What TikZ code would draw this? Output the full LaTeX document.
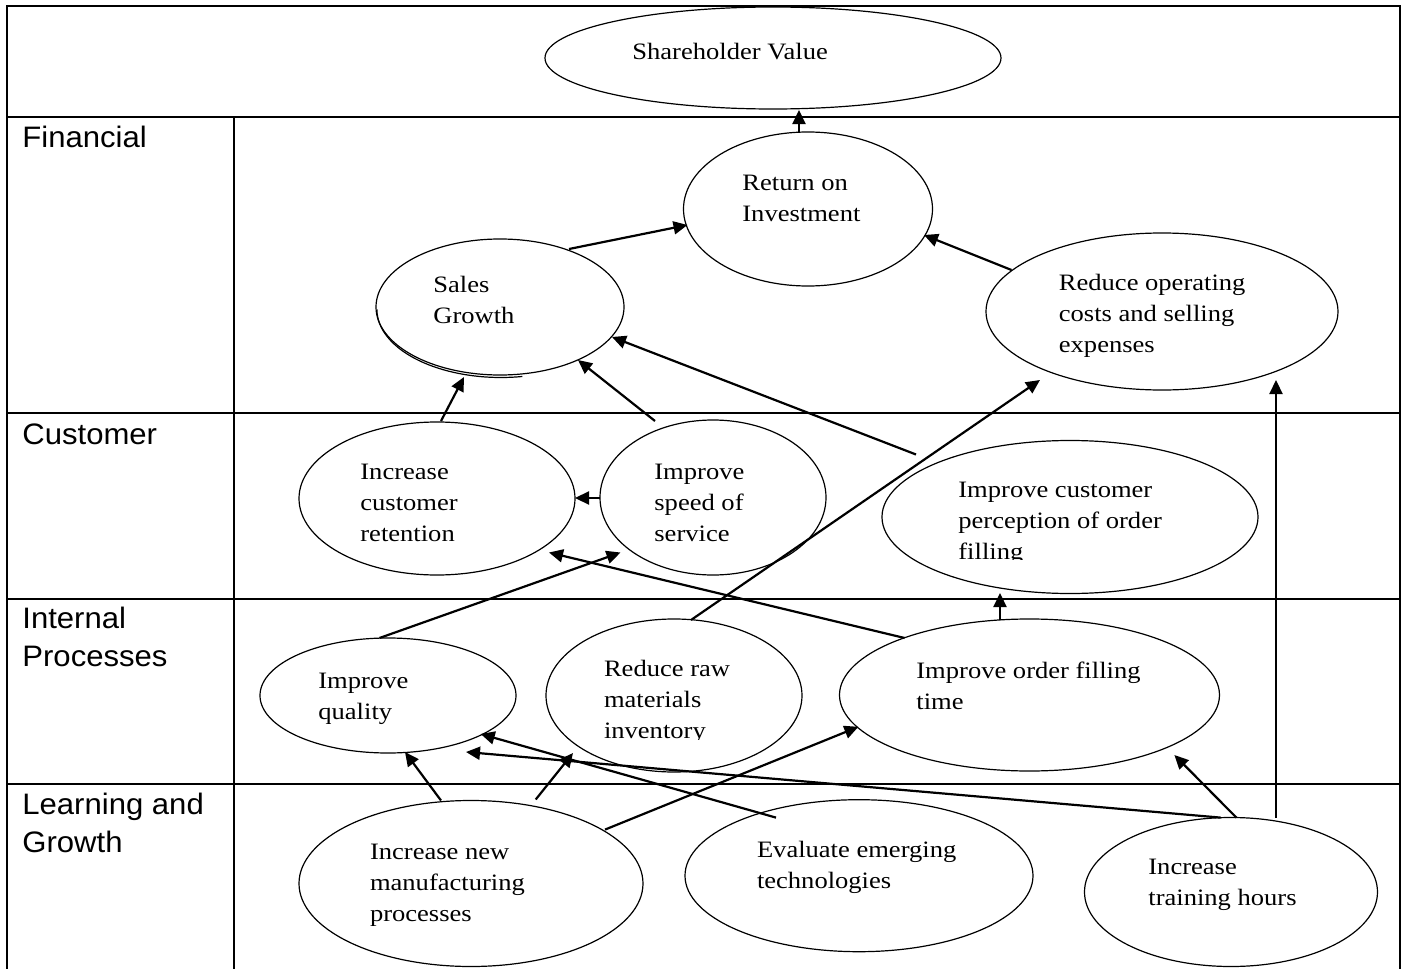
\documentclass[tikz,border=0pt]{standalone}
\usepackage{fontspec}
\setmainfont{Liberation Serif}[FakeStretch=1.13]
\newfontfamily\lblfont{Liberation Sans}[FakeStretch=1.05]
\usetikzlibrary{shapes.geometric,arrows.meta}
\begin{document}
\begin{tikzpicture}[x=0.5pt,y=-0.5pt,
  ell/.style={draw, ellipse, line width=0.6pt, inner sep=0pt},
  txt/.style={inner sep=0pt, anchor=base west, align=left, font=\fontsize{11.75}{15.5}\selectfont},
  lbl/.style={inner sep=0pt, anchor=base west, align=left, font=\lblfont\fontsize{14.8}{19}\selectfont},
  frameline/.style={line width=1pt},
  conn/.style={-{Triangle[length=7pt,width=6.5pt]}, line width=1.1pt}]
\useasboundingbox (0,0) rectangle (1405,969);
\fill[white] (0,0) rectangle (1405,969);
% frame
\draw[frameline] (7,969) -- (7,6) -- (1400,6) -- (1400,969);
\draw[frameline] (7,117) -- (1400,117);
\draw[frameline] (7,413) -- (1400,413);
\draw[frameline] (7,599) -- (1400,599);
\draw[frameline] (7,784) -- (1400,784);
\draw[frameline] (234,117) -- (234,969);
% row labels (anchor = baseline of last line)
\node[lbl] (lfin) at (22,147) {Financial};
\node[lbl] (lcus) at (22,444) {Customer};
\node[lbl] (lint) at (22,666) {Internal\\Processes};
\node[lbl] (llea) at (22,852) {Learning and\\Growth};
% ellipses
\node[ell, minimum width=228pt, minimum height=51pt] (sv) at (773,58) {};
\node[ell, minimum width=124.5pt, minimum height=77pt] (roi) at (808,209) {};
\node[ell, minimum width=124pt, minimum height=68pt] (sg) at (500,307) {};
\node[ell, minimum width=176pt, minimum height=78.5pt] (roc) at (1162,311.5) {};
\node[ell, minimum width=138pt, minimum height=76.5pt] (icr) at (437,498.5) {};
\node[ell, minimum width=113pt, minimum height=77.5pt] (iss) at (713,497.5) {};
\node[ell, minimum width=188pt, minimum height=76.5pt] (icp) at (1070,517) {};
\node[ell, minimum width=128pt, minimum height=57.5pt] (iq) at (388,695.5) {};
\node[ell, minimum width=128pt, minimum height=76.5pt] (rrm) at (674,695.5) {};
\node[ell, minimum width=190pt, minimum height=76pt] (iof) at (1029.5,695) {};
\node[ell, minimum width=172pt, minimum height=83pt] (inm) at (471,883.5) {};
\node[ell, minimum width=174pt, minimum height=76pt] (eet) at (859,875.7) {};
\node[ell, minimum width=146.5pt, minimum height=74.5pt] (ith) at (1231,892) {};
\draw[line width=0.6pt] ([shift={(1.5,2.5)}]sg.west) arc[start angle=180, end angle=280, x radius=62pt, y radius=34pt];
% texts (anchor = baseline of last line)
\node[txt] (sv-t) at (632,60) {Shareholder Value};
\node[txt] (roi-t) at (742,221) {Return on\\Investment};
\node[txt] (sg-t) at (433,323) {Sales\\Growth};
\node[txt] (roc-t) at (1058.5,352) {Reduce operating\\costs and selling\\expenses};
\node[txt] (icr-t) at (360,541) {Increase\\customer\\retention};
\node[txt] (iss-t) at (654,541) {Improve\\speed of\\service};
\begin{scope}
\clip (900,440) rectangle (1250,559);
\node[txt] (icp-t) at (958,559) {Improve customer\\perception of order\\filling};
\end{scope}
\node[txt] (iq-t) at (318,719.5) {Improve\\quality};
\begin{scope}
\clip (560,630) rectangle (800,739.5);
\node[txt] (rrm-t) at (603.6,738) {Reduce raw\\materials\\inventory};
\end{scope}
\node[txt] (iof-t) at (916,709) {Improve order filling\\time};
\node[txt] (inm-t) at (369.6,921) {Increase new\\manufacturing\\processes};
\node[txt] (eet-t) at (756.6,888.5) {Evaluate emerging\\technologies};
\node[txt] (ith-t) at (1148,905) {Increase\\training hours};
% connectors
\draw[conn] ([shift={(-9,-77)}]roi.center) -- ([shift={(26,52)}]sv.center);
\draw[conn] ([shift={(69,-58)}]sg.center) -- ([shift={(-120.5,16)}]roi.center);
\draw[conn] ([shift={(-150.5,-41.5)}]roc.center) -- ([shift={(116,26)}]roi.center);
\draw[conn] ([shift={(4,-77.5)}]icr.center) -- ([shift={(-36,70)}]sg.center);
\draw[conn] ([shift={(-58,-76.5)}]iss.center) -- ([shift={(78,53)}]sg.center);
\draw[conn] ([shift={(-113,0.5)}]iss.center) -- ([shift={(138,-0.5)}]icr.center);
\draw[conn] ([shift={(-154,-62.5)}]icp.center) -- ([shift={(112,30)}]sg.center);
\draw[conn] ([shift={(-8.5,-57.5)}]iq.center) -- ([shift={(-92.5,55)}]iss.center);
\draw[conn] ([shift={(-124.9,-57)}]iof.center) -- ([shift={(112,54)}]icr.center);
\draw[conn] ([shift={(17,-75.5)}]rrm.center) -- ([shift={(-122,68.5)}]roc.center);
\draw[conn] ([shift={(-29.5,-75.5)}]iof.center) -- ([shift={(-70,76)}]icp.center);
\draw[conn] ([shift={(-30,-83)}]inm.center) -- ([shift={(17,56.5)}]iq.center);
\draw[conn] ([shift={(64.7,-84)}]inm.center) -- ([shift={(-101,57.5)}]rrm.center);
\draw[conn] ([shift={(134,-53.9)}]inm.center) -- ([shift={(-171.1,31.8)}]iof.center);
\draw[conn] ([shift={(-83,-58.1)}]eet.center) -- ([shift={(92.7,38.5)}]iq.center);
\draw[conn] ([shift={(5.4,-74.4)}]ith.center) -- ([shift={(144.9,60)}]iof.center);
\draw[conn] ([shift={(-10.4,-74.4)}]ith.center) -- ([shift={(78,56.5)}]iq.center);
\draw[conn] ([shift={(45,-74)}]ith.center) -- ([shift={(114,68.5)}]roc.center);
\end{tikzpicture}
\end{document}
